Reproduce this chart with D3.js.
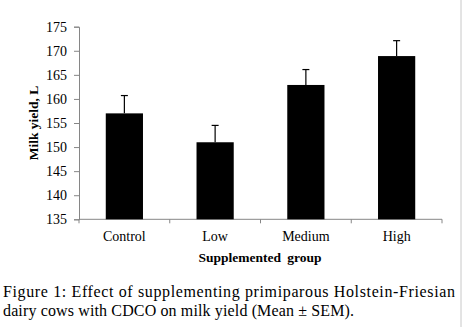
<!DOCTYPE html>
<html>
<head>
<meta charset="utf-8">
<script src="https://cdn.jsdelivr.net/npm/d3@7"></script>
<style>
  body { margin: 0; background: #fff; }
  svg { display: block; font-family: "Liberation Serif", "Times New Roman", serif; }
</style>
</head>
<body>
<div id="chart"></div>
<script>
// data
const groups = ["Control", "Low", "Medium", "High"];
const means = [157.0, 151.0, 162.9, 168.9];
const sems = [3.7, 3.5, 3.2, 3.2];
const yTicks = [135, 140, 145, 150, 155, 160, 165, 170, 175];

const W = 462, H = 327;
const margin = { top: 26.7, right: 20, bottom: 107.7, left: 79 };
const width = 442 - margin.left;
const height = 219.3 - margin.top;

const svg = d3.select("#chart").append("svg")
    .attr("width", W)
    .attr("height", H);

const g = svg.append("g")
    .attr("transform", "translate(" + margin.left + "," + margin.top + ")");

const x = d3.scaleBand()
    .domain(groups)
    .range([0, width])
    .paddingInner(0.59)
    .paddingOuter(0.295);

const y = d3.scaleLinear()
    .domain([135, 175])
    .range([height, 0]);

// y axis
const yAxis = g.append("g")
    .call(d3.axisLeft(y).tickValues(yTicks).tickSize(5).tickPadding(7));
yAxis.select(".domain").attr("stroke", "#868686");
yAxis.selectAll(".tick line").attr("stroke", "#868686");
yAxis.selectAll("text")
    .attr("fill", "#000")
    .style("font-size", "14px")
    .style("font-family", "Liberation Serif");

// x axis with ticks at category boundaries
const xAxis = g.append("g")
    .attr("transform", "translate(0," + height + ")");
xAxis.append("line")
    .attr("x1", 0).attr("x2", width)
    .attr("stroke", "#868686");
const step = width / groups.length;
xAxis.selectAll(".bt")
    .data(d3.range(groups.length + 1))
    .enter().append("line")
    .attr("class", "bt")
    .attr("x1", d => d * step).attr("x2", d => d * step)
    .attr("y1", 0).attr("y2", 4)
    .attr("stroke", "#868686");
xAxis.selectAll(".lbl")
    .data(groups)
    .enter().append("text")
    .attr("class", "lbl")
    .attr("x", d => x(d) + x.bandwidth() / 2)
    .attr("y", 22)
    .attr("text-anchor", "middle")
    .style("font-size", "14px")
    .text(d => d);

// bars
g.selectAll(".bar")
    .data(groups)
    .enter().append("rect")
    .attr("class", "bar")
    .attr("x", d => x(d))
    .attr("width", x.bandwidth())
    .attr("y", (d, i) => y(means[i]))
    .attr("height", (d, i) => height - y(means[i]))
    .attr("fill", "#000");

// error bars (upper only)
const err = g.selectAll(".err")
    .data(groups)
    .enter().append("g")
    .attr("class", "err");
err.append("line")
    .attr("x1", d => x(d) + x.bandwidth() / 2)
    .attr("x2", d => x(d) + x.bandwidth() / 2)
    .attr("y1", (d, i) => y(means[i]))
    .attr("y2", (d, i) => y(means[i] + sems[i]))
    .attr("stroke", "#000")
    .attr("stroke-width", 1.2);
err.append("line")
    .attr("x1", d => x(d) + x.bandwidth() / 2 - 3.5)
    .attr("x2", d => x(d) + x.bandwidth() / 2 + 3.5)
    .attr("y1", (d, i) => y(means[i] + sems[i]))
    .attr("y2", (d, i) => y(means[i] + sems[i]))
    .attr("stroke", "#000")
    .attr("stroke-width", 1.2);

// axis titles
svg.append("text")
    .attr("transform", "translate(38,123) rotate(-90)")
    .attr("text-anchor", "middle")
    .style("font-size", "13.5px")
    .style("font-weight", "bold")
    .text("Milk yield, L");

svg.append("text")
    .attr("x", 260)
    .attr("y", 262)
    .attr("text-anchor", "middle")
    .style("font-size", "13.5px")
    .style("font-weight", "bold")
    .style("word-spacing", "3px")
    .text("Supplemented  group");

// caption
svg.append("text")
    .attr("x", 3)
    .attr("y", 297)
    .attr("textLength", 452)
    .attr("lengthAdjust", "spacing")
    .style("font-size", "16px")
    .text("Figure 1: Effect of supplementing primiparous Holstein-Friesian");
svg.append("text")
    .attr("x", 3)
    .attr("y", 316)
    .attr("textLength", 351)
    .attr("lengthAdjust", "spacing")
    .style("font-size", "16px")
    .text("dairy cows with CDCO on milk yield (Mean \u00b1 SEM).");

// right edge border
svg.append("line")
    .attr("x1", 461).attr("x2", 461)
    .attr("y1", 0).attr("y2", H)
    .attr("stroke", "#c8c8c8");
</script>
</body>
</html>
